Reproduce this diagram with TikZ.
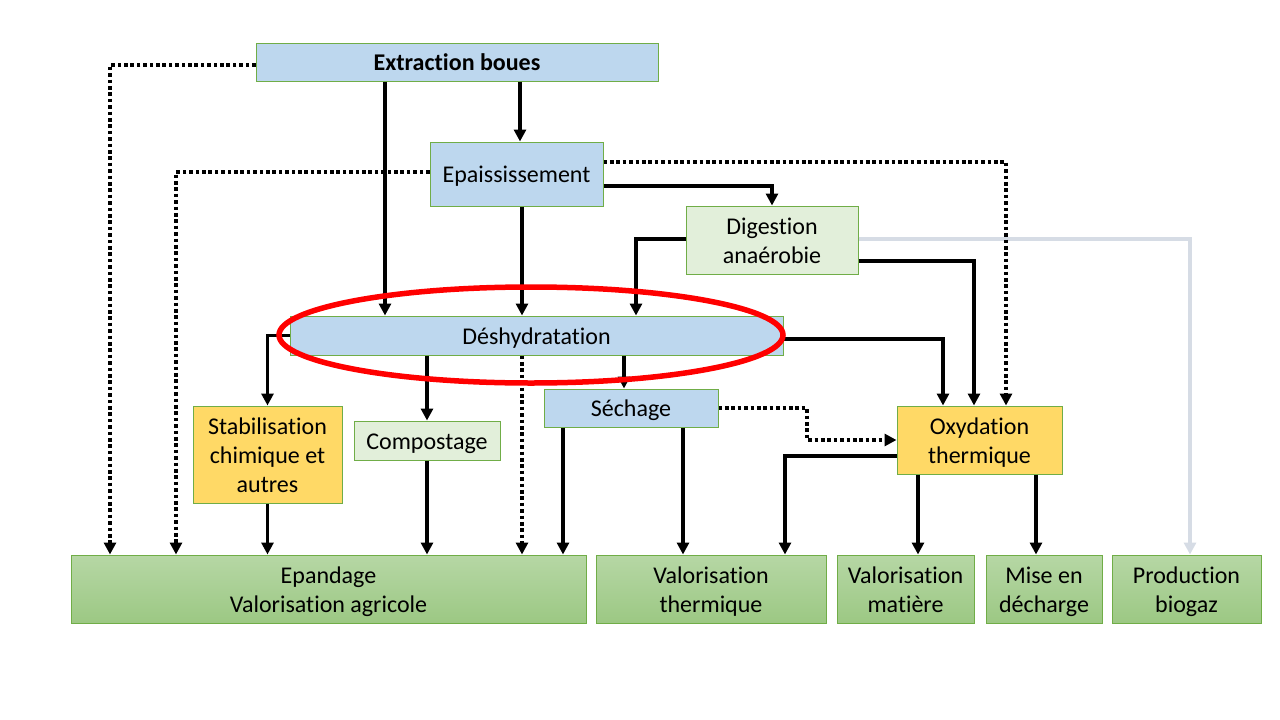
\documentclass[tikz,border=0pt]{standalone}
\usepackage{fontspec}
\setmainfont{Carlito}[Ligatures=NoCommon]
\usetikzlibrary{arrows.meta,calc}
\definecolor{bfill}{HTML}{BDD7EE}
\definecolor{gfill}{HTML}{E2EFDA}
\definecolor{yfill}{HTML}{FFD966}
\definecolor{gborder}{HTML}{70AD47}
\definecolor{otop}{HTML}{B6D7A5}
\definecolor{obot}{HTML}{9CC883}
\definecolor{grayline}{HTML}{D6DCE5}
\newcommand\fstrut{\rule{0pt}{24pt}}
\tikzset{
  box/.style={draw=gborder, line width=1pt, inner sep=0pt, align=center,
    execute at begin node={\rule{0pt}{23pt}},
    execute at end node={\rule[-6pt]{0pt}{0pt}},
    font=\fontsize{24}{29}\selectfont},
  bluebox/.style={box, fill=bfill},
  greenbox/.style={box, fill=gfill},
  yellowbox/.style={box, fill=yfill},
  outbox/.style={box, top color=otop, bottom color=obot, minimum height=68pt},
  arr/.style={line width=3.6pt, -{Triangle[length=12pt,width=12pt]}},
  dotarr/.style={arr, dash pattern=on 3.6pt off 2.8pt},
  grayarr/.style={arr, draw=grayline, color=grayline},
}
\begin{document}
\begin{tikzpicture}[x=1pt,y=-1pt]
\useasboundingbox (0,0) rectangle (1280,720);
\fill[white] (0,0) rectangle (1280,720);

% nodes
\node[bluebox, minimum width=402pt, minimum height=38pt, font=\fontsize{24}{29}\selectfont\bfseries] (ext) at (457,62) {Extraction boues};
\node[bluebox, minimum width=173pt, minimum height=64pt] (epa) at (516.5,174) {Epaississement};
\node[greenbox, minimum width=172pt, minimum height=68pt] (dig) at (772,240) {\fstrut Digestion\\anaérobie};
\node[bluebox, minimum width=493pt, minimum height=39pt] (des) at (536.5,335.5) {Déshydratation};
\node[bluebox, minimum width=174pt, minimum height=38pt] (sech) at (631,408) {Séchage};
\node[yellowbox, minimum width=149pt, minimum height=97pt] (stab) at (267.5,454.5) {\fstrut Stabilisation\\chimique et\\autres};
\node[greenbox, minimum width=146pt, minimum height=39pt] (comp) at (427,440.5) {Compostage};
\node[yellowbox, minimum width=165pt, minimum height=68pt] (oxy) at (979.5,440) {\fstrut Oxydation\\thermique};
\node[outbox, minimum width=515pt] (epan) at (328.5,589) {\fstrut Epandage\\Valorisation agricole};
\node[outbox, minimum width=230pt] (vth) at (711,589) {\fstrut Valorisation\\thermique};
\node[outbox, minimum width=137pt] (vmat) at (905.5,589) {\fstrut Valorisation\\matière};
\node[outbox, minimum width=116pt] (mise) at (1044,589) {\fstrut Mise en\\décharge};
\node[outbox, minimum width=149pt] (prod) at (1186.5,589) {\fstrut Production\\biogaz};

% gray connector (behind)
\draw[grayarr] (dig.east |- 0,239) -| (prod.north -| 1190,0);

% solid connectors
\draw[arr] (ext.south -| 520,0) -- (epa.north -| 520,0);
\draw[arr] (ext.south -| 385,0) -- (des.north -| 385,0);
\draw[arr] (epa.south -| 522,0) -- (des.north -| 522,0);
\draw[arr] (epa.east |- 0,186) -| (dig.north);
\draw[arr] (dig.west |- 0,239) -| (des.north -| 636,0);
\draw[arr] (dig.east |- 0,261) -| (oxy.north -| 974,0);
\draw[arr] (des.east |- 0,339) -| (oxy.north -| 943,0);
\draw[arr] (des.west) -| (stab.north);
\draw[arr] (des.south -| 427,0) -- (comp.north);
\draw[arr] (des.south -| 624,0) -- (sech.north -| 624,0);
\draw[arr] (stab.south) -- (epan.north -| stab.south);
\draw[arr] (comp.south) -- (epan.north -| comp.south);
\draw[arr] (sech.south -| 563,0) -- (epan.north -| 563,0);
\draw[arr] (sech.south -| 683,0) -- (vth.north -| 683,0);
\draw[arr] (oxy.west |- 0,456) -| (vth.north -| 785,0);
\draw[arr] (oxy.south -| 918,0) -- (vmat.north -| 918,0);
\draw[arr] (oxy.south -| 1036,0) -- (mise.north -| 1036,0);

% dotted connectors
\draw[dotarr] (ext.west |- 0,65) -| (epan.north -| 110,0);
\draw[dotarr] (epa.west |- 0,172) -| (epan.north -| 176,0);
\draw[dotarr] (epa.east |- 0,162) -| (oxy.north -| 1006,0);
\draw[dotarr] (des.south -| 522,0) -- (epan.north -| 522,0);
\draw[dotarr] (sech.east) -| (oxy.west -| 807,0) -- (oxy.west);

% red ellipse
\draw[red, line width=5.5pt] (531,335) ellipse [x radius=252, y radius=48];
\end{tikzpicture}
\end{document}
